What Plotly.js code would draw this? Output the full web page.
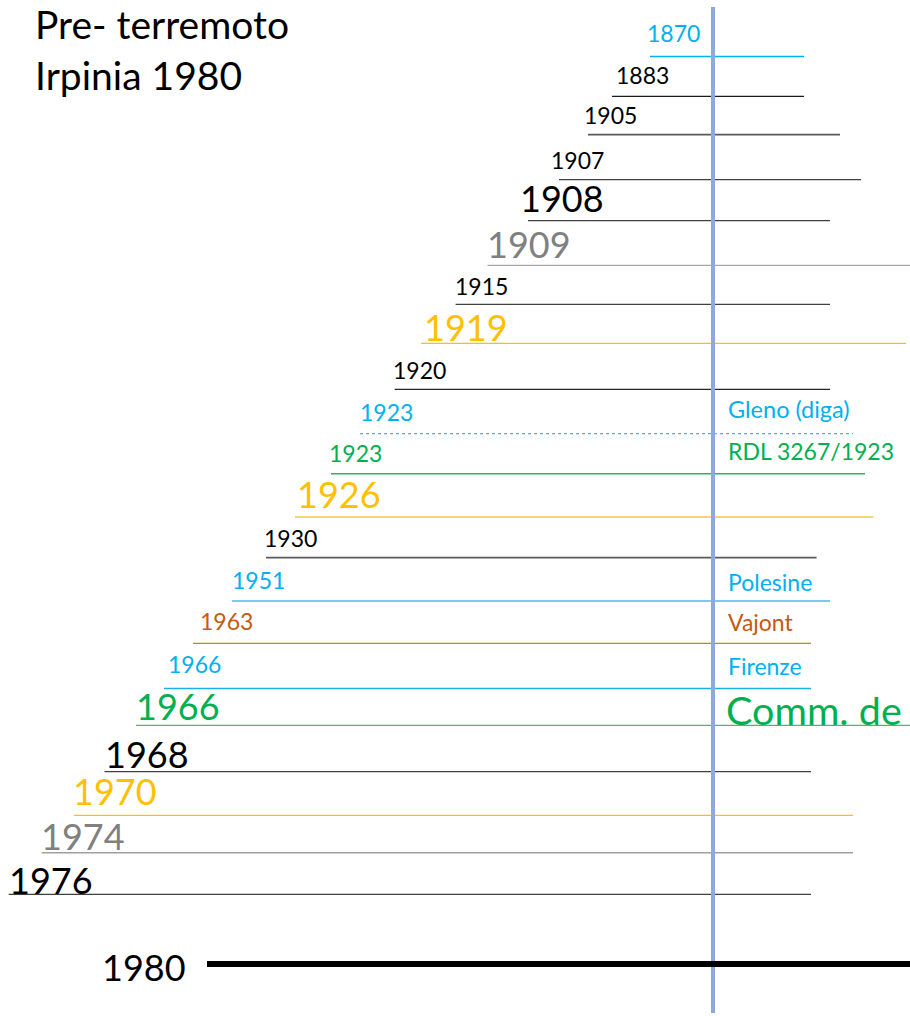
<!DOCTYPE html>
<html><head><meta charset="utf-8">
<script src="https://cdn.plot.ly/plotly-3.0.1.min.js"></script>
<style>html,body{margin:0;padding:0;background:#fff}</style>
</head><body><div id="chart" style="width:910px;height:1016px"></div>
<script>
// ---- data ----
const eventYears = ['1870','1883','1905','1907','1908','1909','1915','1919','1920','1923','1923','1926','1930','1951','1963','1966','1966','1968','1970','1974','1976','1980'];
const eventNotes = ['','','','','','','','','','Gleno (diga)','RDL 3267/1923','','','Polesine','Vajont','Firenze','Comm. de','','','','',''];
const titleText = 'Pre- terremoto<br>Irpinia 1980';

// ---- layout / style config (diagram positions in a 910 x 1016 frame) ----
const rowY      = [56.5,96.3,134.7,179.7,220.7,265.3,304.3,343.3,389.3,433.7,473.7,517,557.7,601,643.3,688.5,725.3,771.7,815.3,852.7,894.3,964];
const lineStart = [650,612,588,559,528,487.5,455.6,421,394.7,360,331,295,266,232,193,164,136,104.5,74,41.8,8.7,207];
const lineEnd   = [804,804,840,861,830,910,830,906,830,853,865,873.5,816.6,830,811,811,910,811,853,853,811,910];
const labelX    = [645,614,582,549,518,485,453,422,391,358,327,295,262,230,198,166,134,102.5,70.5,38.6,7,99.6];
const labelY    = [32.5,74.7,115,159.5,198.3,244,286,327,370,411.7,453,493.7,538,580,621.3,663.7,705.5,753.7,791,836,879.5,966.7];
const noteX     = [726,726,726,726,726,726,726,726,726,726,726,726,726,726,726,726,723.5,726,726,726,726,726];
const noteY     = [0,0,0,0,0,0,0,0,0,409,451,0,0,582,622,666,709,0,0,0,0,0];
const labelSize = [23,23,23,23,36,36,23,36,23,23,23,36,23,23,23,23,36,36,36,36,36,36];
const noteSize  = [23,23,23,23,23,23,23,23,23,23.5,23,23,23,23,23,23,39.5,23,23,23,23,23];
const CY='#00B0F0', GR='#00B050', YE='#FFC000', GY='#808080', BR='#C55A11';
const textColor = [CY,'#000','#000','#000','#000',GY,'#000',YE,'#000',CY,GR,YE,'#000',CY,BR,CY,GR,'#000',YE,GY,'#000','#000'];
const lineColor = [CY,'#1a1a1a','#595959','#404040','#404040','#A6A6A6','#404040','#FFC000','#262626','#3DB8EC','#2FB35E','#F5C547','#5a5a5a','#47BBEA','#BF8F00','#1AAFE6','#44B878','#404040','#FFC000','#A0A0A0','#404040','#000'];
const lineWidth = [1.3,1.3,1.8,1.3,1.3,1.3,1.3,1.3,1.3,1.3,1.5,1.3,1.8,1.5,1.3,1.3,1.3,1.3,1.3,1.5,1.3,6];
const lineDash  = ['solid','solid','solid','solid','solid','solid','solid','solid','solid','dot','solid','solid','solid','solid','solid','solid','solid','solid','solid','solid','solid','solid'];
const axisLineX = 713, axisLineTop = 7, axisLineBottom = 1013, axisLineColor = '#8EA9DB';

const FONT = 'Lato, "Open Sans", sans-serif';
const traces = [];
const last = eventYears.length - 1;
for (let i = 0; i < last; i++) {
  traces.push({x:[lineStart[i], lineEnd[i]], y:[rowY[i], rowY[i]], mode:'lines', type:'scatter',
    line:{color:lineColor[i], width:lineWidth[i], dash:lineDash[i]}, hoverinfo:'skip'});
}
traces.push({x:[axisLineX, axisLineX], y:[axisLineTop, axisLineBottom], mode:'lines', type:'scatter',
  line:{color:axisLineColor, width:4}, hoverinfo:'skip'});
traces.push({x:[lineStart[last], lineEnd[last]], y:[rowY[last], rowY[last]], mode:'lines', type:'scatter',
  line:{color:lineColor[last], width:lineWidth[last]}, hoverinfo:'skip'});

const annotations = [];
for (let i = 0; i < eventYears.length; i++) {
  annotations.push({x:labelX[i], y:labelY[i], xref:'x', yref:'y', text:eventYears[i], showarrow:false,
    xanchor:'left', yanchor:'middle', font:{family:FONT, size:labelSize[i], color:textColor[i]}});
  if (eventNotes[i]) {
    annotations.push({x:noteX[i], y:noteY[i], xref:'x', yref:'y', text:eventNotes[i], showarrow:false,
      xanchor:'left', yanchor:'middle', font:{family:FONT, size:noteSize[i], color:textColor[i]}});
  }
}

const layout = {
  width:910, height:1016, margin:{l:0,r:0,t:0,b:0},
  paper_bgcolor:'#fff', plot_bgcolor:'#fff', showlegend:false, hovermode:false,
  title:{text:titleText, x:35/910, xref:'container', xanchor:'left', y:1-39/1016, yref:'container', yanchor:'top',
    font:{family:FONT, size:39, color:'#000'}},
  xaxis:{range:[0,910], visible:false, fixedrange:true},
  yaxis:{range:[1016,0], visible:false, fixedrange:true},
  annotations:annotations
};
Plotly.newPlot('chart', traces, layout, {staticPlot:true, displayModeBar:false});
</script></body></html>
